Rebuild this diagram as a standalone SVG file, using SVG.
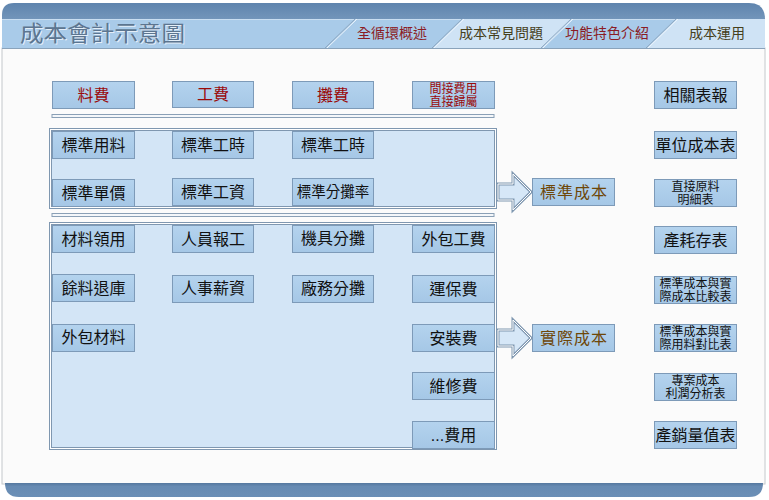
<svg xmlns="http://www.w3.org/2000/svg" width="769" height="500" viewBox="0 0 769 500">
<defs>
<linearGradient id="boxg" x1="0" y1="0" x2="0" y2="1">
<stop offset="0" stop-color="#b4d3ee"/>
<stop offset="1" stop-color="#a5c7e6"/>
</linearGradient>
<linearGradient id="topg" x1="0" y1="0" x2="0" y2="1">
<stop offset="0" stop-color="#5f84ad"/>
<stop offset="1" stop-color="#7396bb"/>
</linearGradient>
<linearGradient id="botg" x1="0" y1="0" x2="0" y2="1">
<stop offset="0" stop-color="#55789f"/>
<stop offset="0.25" stop-color="#678bb3"/>
<stop offset="1" stop-color="#6b8fb6"/>
</linearGradient>
<style>
text{font-family:"Liberation Sans","Noto Sans CJK TC",sans-serif;text-anchor:middle;dominant-baseline:central}
.box{fill:url(#boxg);stroke:#7d9ab8;stroke-width:1}
.t{font-size:16px;fill:#111}
.ts{font-size:12px;fill:#111}
.red{font-size:16px;fill:#9a0a0a}
.reds{font-size:12px;fill:#9a0a0a}
.brown{font-size:16px;fill:#6e4708;letter-spacing:1px}
.grp{fill:#d3e5f6;stroke:#7f97b0;stroke-width:3}
.grpi{fill:none;stroke:#ffffff;stroke-width:1}
.dl{fill:#f4f7fa;stroke:#8aa0b6;stroke-width:1}
.arr{fill:#d6e7f7;stroke:#7f97b0;stroke-width:3;stroke-linejoin:miter}
.arri{fill:none;stroke:#ffffff;stroke-width:1;stroke-linejoin:miter}
.tab{font-size:14px}
</style>
</defs>

<!-- background / frame -->
<rect x="0" y="0" width="769" height="500" fill="#ffffff"/>
<rect x="2" y="48" width="763" height="436" fill="#fbfbfb" stroke="#c4c8cc" stroke-width="1"/>

<!-- header -->
<g id="header">
<path d="M2,20 V15 Q2,3 14,3 H749 Q765,3 765,19 V20 Z" fill="url(#topg)"/>
<rect x="2" y="19" width="763" height="29" fill="#a9cbe9"/>
<line x1="2" y1="19.5" x2="765" y2="19.5" stroke="#c9def1" stroke-width="1"/>
<polygon points="433,48 463,19 572,19 542,48" fill="#cfe3f5"/>
<polygon points="647,48 677,19 765,19 765,48" fill="#cfe3f5"/>
<g stroke-width="1">
<line x1="325" y1="48" x2="355" y2="19" stroke="#8ea8c1"/>
<line x1="327" y1="48" x2="357" y2="19" stroke="#eef5fc"/>
<line x1="432" y1="48" x2="462" y2="19" stroke="#8ea8c1"/>
<line x1="434" y1="48" x2="464" y2="19" stroke="#eef5fc"/>
<line x1="541" y1="48" x2="571" y2="19" stroke="#8ea8c1"/>
<line x1="543" y1="48" x2="573" y2="19" stroke="#eef5fc"/>
<line x1="646" y1="48" x2="676" y2="19" stroke="#8ea8c1"/>
<line x1="648" y1="48" x2="678" y2="19" stroke="#eef5fc"/>
</g>
<line x1="2" y1="48.5" x2="765" y2="48.5" stroke="#8aa3bb" stroke-width="1"/>
<text x="103.5" y="34" style="font-size:22px;fill:#e4eef8" textLength="165" lengthAdjust="spacingAndGlyphs">成本會計示意圖</text>
<text x="102.5" y="33" style="font-size:22px;fill:#5c7590" textLength="165" lengthAdjust="spacingAndGlyphs">成本會計示意圖</text>
<text class="tab" x="392" y="33" fill="#8b1c24">全循環概述</text>
<text class="tab" x="501" y="33" fill="#46401c">成本常見問題</text>
<text class="tab" x="607" y="33" fill="#8b1c24">功能特色介紹</text>
<text class="tab" x="717" y="33" fill="#46401c">成本運用</text>
</g>

<!-- footer -->
<path d="M5,483 H763 Q763,497 749,497 H19 Q5,497 5,483 Z" fill="url(#botg)"/>

<!-- separators -->
<rect class="dl" x="52" y="114.5" width="442" height="3"/>
<rect class="dl" x="52" y="213.5" width="442" height="3"/>

<!-- groups -->
<g id="group-standard">
<rect class="grp" x="50.5" y="129.5" width="445" height="78"/>
<rect class="grpi" x="50.5" y="129.5" width="445" height="78"/>
</g>
<g id="group-actual">
<rect class="grp" x="50.5" y="223.5" width="445" height="225"/>
<rect class="grpi" x="50.5" y="223.5" width="445" height="225"/>
</g>

<!-- connectors -->
<g id="connectors">
<polygon class="arr" points="498,184 513,184 513,174 531,192 513,210 513,200 498,200"/>
<polygon class="arri" points="498,184 513,184 513,174 531,192 513,210 513,200 498,200"/>
<polygon class="arr" points="498,330 513,330 513,320 531,338 513,356 513,346 498,346"/>
<polygon class="arri" points="498,330 513,330 513,320 531,338 513,356 513,346 498,346"/>
</g>

<!-- top row -->
<g id="n-liaofei"><rect class="box" x="52.5" y="81.5" width="82" height="27"/><text class="red" x="93.5" y="95">料費</text></g>
<g id="n-gongfei"><rect class="box" x="172.5" y="81.5" width="81" height="26"/><text class="red" x="213" y="94.5">工費</text></g>
<g id="n-tanfei"><rect class="box" x="292.5" y="81.5" width="81" height="27"/><text class="red" x="333" y="95">攤費</text></g>
<g id="n-jianjie"><rect class="box" x="412.5" y="81.5" width="82" height="27"/><text class="reds" x="453.5" y="88.5">間接費用</text><text class="reds" x="453.5" y="101.5">直接歸屬</text></g>

<!-- standard group nodes -->
<g id="n-std-material"><rect class="box" x="52.5" y="131.5" width="82" height="27"/><text class="t" x="93.5" y="145">標準用料</text></g>
<g id="n-std-hours1"><rect class="box" x="172.5" y="131.5" width="81" height="27"/><text class="t" x="213" y="145.5">標準工時</text></g>
<g id="n-std-hours2"><rect class="box" x="292.5" y="131.5" width="81" height="27"/><text class="t" x="333" y="145.5">標準工時</text></g>
<g id="n-std-price"><rect class="box" x="52.5" y="179.5" width="82" height="27"/><text class="t" x="93.5" y="193">標準單價</text></g>
<g id="n-std-wage"><rect class="box" x="172.5" y="178.5" width="81" height="27"/><text class="t" x="213" y="192">標準工資</text></g>
<g id="n-std-rate"><rect class="box" x="292.5" y="178.5" width="81" height="27"/><text class="t" x="333" y="192" style="font-size:14.5px">標準分攤率</text></g>

<!-- actual group nodes -->
<g id="n-act-issue"><rect class="box" x="52.5" y="225.5" width="82" height="27"/><text class="t" x="93.5" y="239">材料領用</text></g>
<g id="n-act-report"><rect class="box" x="172.5" y="225.5" width="81" height="27"/><text class="t" x="213" y="239">人員報工</text></g>
<g id="n-act-machine"><rect class="box" x="292.5" y="225.5" width="81" height="27"/><text class="t" x="333" y="238.5">機具分攤</text></g>
<g id="n-act-outlabor"><rect class="box" x="412.5" y="225.5" width="82" height="27"/><text class="t" x="453.5" y="239.5">外包工費</text></g>
<g id="n-act-return"><rect class="box" x="52.5" y="274.5" width="82" height="27"/><text class="t" x="93.5" y="288.5">餘料退庫</text></g>
<g id="n-act-salary"><rect class="box" x="172.5" y="275.5" width="81" height="27"/><text class="t" x="213" y="288.5">人事薪資</text></g>
<g id="n-act-factory"><rect class="box" x="292.5" y="275.5" width="81" height="27"/><text class="t" x="333" y="288.5">廠務分攤</text></g>
<g id="n-act-freight"><rect class="box" x="412.5" y="275.5" width="82" height="27"/><text class="t" x="453.5" y="289.5">運保費</text></g>
<g id="n-act-outmat"><rect class="box" x="52.5" y="324.5" width="82" height="27"/><text class="t" x="93.5" y="337.5">外包材料</text></g>
<g id="n-act-install"><rect class="box" x="412.5" y="324.5" width="82" height="27"/><text class="t" x="453.5" y="338.5">安裝費</text></g>
<g id="n-act-repair"><rect class="box" x="412.5" y="372.5" width="82" height="27"/><text class="t" x="453.5" y="386.5">維修費</text></g>
<g id="n-act-other"><rect class="box" x="412.5" y="421.5" width="82" height="27"/><text class="t" x="453.5" y="435">...費用</text></g>

<!-- results -->
<g id="n-std-cost"><rect class="box" x="532.5" y="178.5" width="82" height="27"/><text class="brown" x="574" y="192">標準成本</text></g>
<g id="n-act-cost"><rect class="box" x="532.5" y="324.5" width="82" height="27"/><text class="brown" x="574" y="338">實際成本</text></g>

<!-- right column -->
<g id="n-reports"><rect class="box" x="654.5" y="81.5" width="82" height="27"/><text class="t" x="695.5" y="95">相關表報</text></g>
<g id="n-unit-cost"><rect class="box" x="654.5" y="131.5" width="82" height="27"/><text class="t" x="695.5" y="145">單位成本表</text></g>
<g id="n-direct-mat"><rect class="box" x="654.5" y="179.5" width="82" height="27"/><text class="ts" x="695.5" y="187">直接原料</text><text class="ts" x="695.5" y="200">明細表</text></g>
<g id="n-inventory"><rect class="box" x="654.5" y="226.5" width="82" height="27"/><text class="t" x="695.5" y="240">產耗存表</text></g>
<g id="n-compare1"><rect class="box" x="654.5" y="276.5" width="82" height="27"/><text class="ts" x="695.5" y="283.5">標準成本與實</text><text class="ts" x="695.5" y="296.5">際成本比較表</text></g>
<g id="n-compare2"><rect class="box" x="654.5" y="324.5" width="82" height="27"/><text class="ts" x="695.5" y="331.5">標準成本與實</text><text class="ts" x="695.5" y="344.5">際用料對比表</text></g>
<g id="n-project"><rect class="box" x="654.5" y="373.5" width="82" height="27"/><text class="ts" x="695.5" y="380.5">專案成本</text><text class="ts" x="695.5" y="393.5">利潤分析表</text></g>
<g id="n-sales"><rect class="box" x="654.5" y="421.5" width="82" height="27"/><text class="t" x="695.5" y="435">產銷量值表</text></g>
</svg>
